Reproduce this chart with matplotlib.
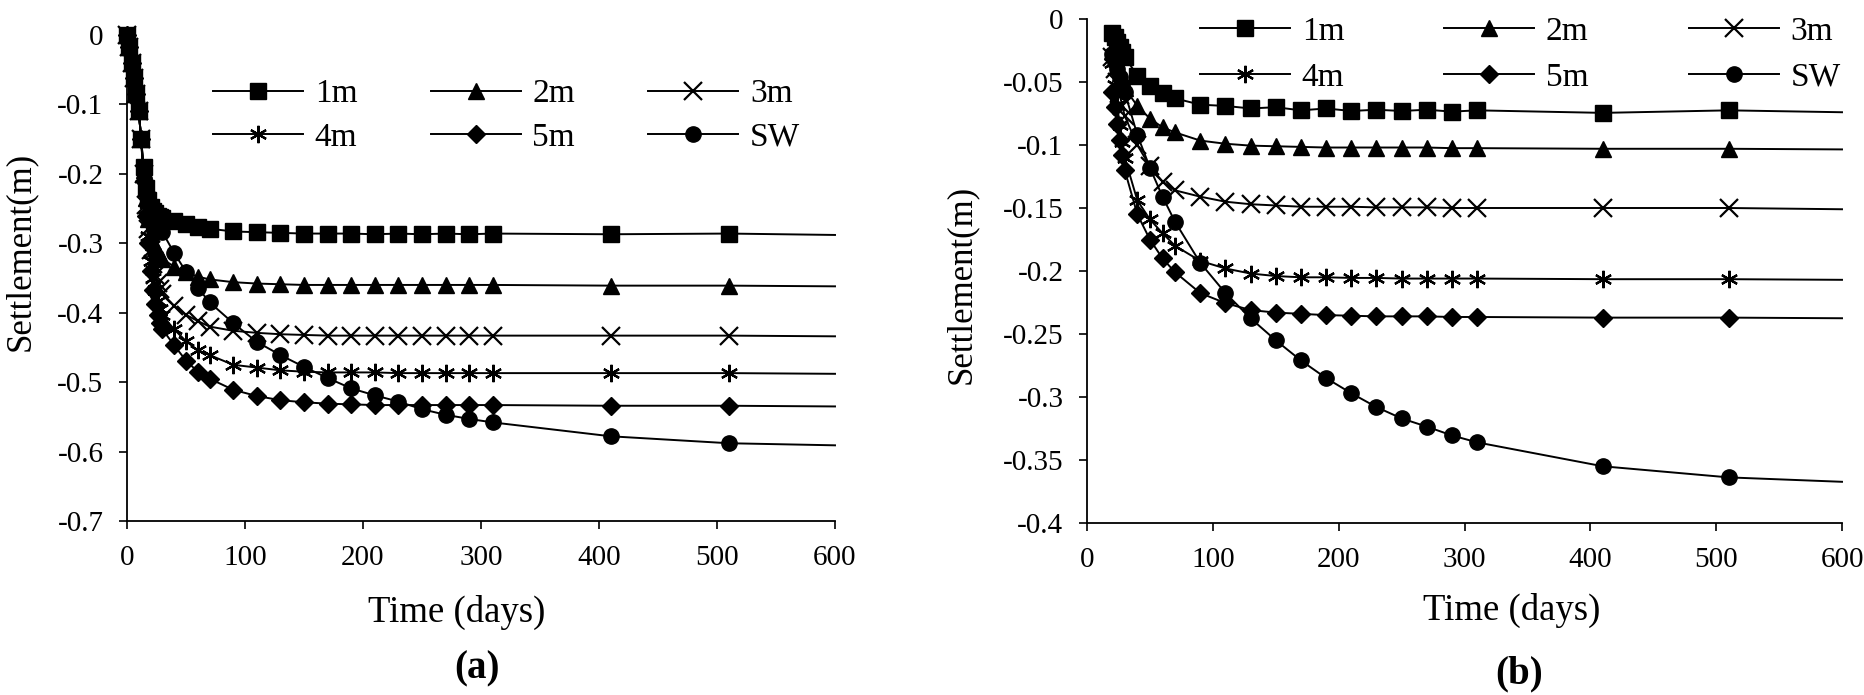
import matplotlib
matplotlib.use("Agg")
import matplotlib.pyplot as plt
from matplotlib.lines import Line2D

plt.rcParams['font.family'] = ['Liberation Serif', 'DejaVu Serif']

# ---------------- data: panel (a) ----------------
ta = [0, 2, 4, 6, 8, 10, 12, 14, 16, 18, 20, 22, 24, 26, 28, 30,
      40, 50, 60, 70,
      90, 110, 130, 150, 170, 190, 210, 230, 250, 270, 290, 310,
      410, 510, 600]
a_1m = [0, -0.018, -0.04, -0.062, -0.085, -0.11, -0.15,
        -0.19, -0.22, -0.238, -0.248, -0.253, -0.257, -0.26, -0.262, -0.264,
        -0.268, -0.272, -0.276, -0.279,
        -0.283, -0.284, -0.285, -0.286, -0.286, -0.286, -0.287, -0.286, -0.287, -0.286, -0.287, -0.286,
        -0.287, -0.286, -0.288]
a_2m = [0, -0.018, -0.04, -0.062, -0.085, -0.11, -0.15,
        -0.195, -0.235, -0.265, -0.285, -0.298, -0.307, -0.313, -0.318, -0.322,
        -0.334, -0.342, -0.348, -0.352,
        -0.356, -0.358, -0.359, -0.36, -0.36, -0.36, -0.36, -0.36, -0.36, -0.36, -0.36, -0.36,
        -0.361, -0.361, -0.362]
a_3m = [0, -0.018, -0.04, -0.062, -0.085, -0.11, -0.15,
        -0.2, -0.245, -0.28, -0.31, -0.33, -0.345, -0.357, -0.366, -0.373,
        -0.39, -0.403, -0.412, -0.42,
        -0.426, -0.429, -0.431, -0.432, -0.433, -0.433, -0.433, -0.433, -0.433, -0.433, -0.433, -0.433,
        -0.433, -0.433, -0.434]
a_4m = [0, -0.018, -0.04, -0.062, -0.085, -0.11, -0.15,
        -0.205, -0.25, -0.29, -0.325, -0.35, -0.368, -0.383, -0.395, -0.404,
        -0.424, -0.441, -0.454, -0.461,
        -0.475, -0.479, -0.483, -0.485, -0.486, -0.486, -0.486, -0.487, -0.487, -0.487, -0.487, -0.487,
        -0.487, -0.487, -0.488]
a_5m = [0, -0.018, -0.04, -0.062, -0.085, -0.11, -0.15,
        -0.21, -0.26, -0.3, -0.34, -0.367, -0.388, -0.403, -0.415, -0.424,
        -0.447, -0.469, -0.485, -0.495,
        -0.511, -0.52, -0.526, -0.529, -0.531, -0.532, -0.533, -0.533, -0.533, -0.533, -0.533, -0.533,
        -0.534, -0.534, -0.535]
a_sw = [0, -0.018, -0.04, -0.062, -0.085, -0.11, -0.15,
        -0.19, -0.215, -0.232, -0.245, -0.255, -0.263, -0.27, -0.277, -0.284,
        -0.314, -0.341, -0.364, -0.385,
        -0.415, -0.442, -0.461, -0.478, -0.494, -0.509, -0.519, -0.528, -0.539, -0.547, -0.553, -0.558,
        -0.578, -0.588, -0.591]

# ---------------- data: panel (b) ----------------
tb = [20, 22, 24, 26, 28, 30,
      40, 50, 60, 70,
      90, 110, 130, 150, 170, 190, 210, 230, 250, 270, 290, 310,
      410, 510, 600]
b_1m = [-0.011, -0.014, -0.018, -0.022, -0.026, -0.030,
        -0.045, -0.053, -0.059, -0.063,
        -0.068, -0.069, -0.071, -0.070, -0.0725, -0.071, -0.073, -0.072, -0.073, -0.072, -0.0735, -0.0725,
        -0.0745, -0.0725, -0.074]
b_2m = [-0.025, -0.031, -0.037, -0.043, -0.049, -0.055,
        -0.069, -0.079, -0.086, -0.090,
        -0.0965, -0.099, -0.1005, -0.101, -0.1015, -0.102, -0.102, -0.102, -0.102, -0.102, -0.1025, -0.1025,
        -0.103, -0.103, -0.1035]
b_3m = [-0.030, -0.040, -0.050, -0.060, -0.069, -0.077,
        -0.100, -0.117, -0.129, -0.136,
        -0.141, -0.145, -0.147, -0.148, -0.149, -0.149, -0.149, -0.1495, -0.1495, -0.1495, -0.150, -0.150,
        -0.150, -0.150, -0.151]
b_4m = [-0.035, -0.052, -0.068, -0.084, -0.098, -0.110,
        -0.144, -0.159, -0.170, -0.180,
        -0.192, -0.198, -0.202, -0.204, -0.205, -0.205, -0.2055, -0.2055, -0.206, -0.206, -0.206, -0.206,
        -0.2065, -0.2065, -0.207]
b_5m = [-0.058, -0.070, -0.083, -0.096, -0.108, -0.120,
        -0.155, -0.175, -0.190, -0.201,
        -0.2175, -0.2255, -0.231, -0.233, -0.234, -0.235, -0.2355, -0.236, -0.236, -0.236, -0.2365, -0.2365,
        -0.237, -0.237, -0.2375]
b_sw = [-0.028, -0.034, -0.040, -0.046, -0.052, -0.058,
        -0.092, -0.118, -0.141, -0.161,
        -0.1935, -0.2175, -0.2375, -0.255, -0.271, -0.285, -0.297, -0.308, -0.317, -0.3235, -0.3305, -0.336,
        -0.355, -0.3638, -0.3673]

labels = ['1m', '2m', '3m', '4m', '5m', 'SW']
xticks = [0, 100, 200, 300, 400, 500, 600]
xticklabels = ['0', '100', '200', '300', '400', '500', '600']
a_yticks = [0, -0.1, -0.2, -0.3, -0.4, -0.5, -0.6, -0.7]
a_yticklabels = ['0', '-0.1', '-0.2', '-0.3', '-0.4', '-0.5', '-0.6', '-0.7']
b_yticks = [0, -0.05, -0.1, -0.15, -0.2, -0.25, -0.3, -0.35, -0.4]
b_yticklabels = ['0', '-0.05', '-0.1', '-0.15', '-0.2', '-0.25', '-0.3', '-0.35', '-0.4']

# ---------------- styles ----------------
W, H = 1865, 695
fig = plt.figure(figsize=(W / 100, H / 100), dpi=100)

markers = {
    '1m': dict(marker='s', ms=11.5),
    '2m': dict(marker='^', ms=12),
    '3m': dict(marker='x', ms=13.5, mew=1.6),
    '4m': dict(marker=(6, 2, 0), ms=12.5, mew=1.6),
    '5m': dict(marker='D', ms=9.5),
    'SW': dict(marker='o', ms=11),
}


def px_axes(l, r, t, b):
    return [l / W, 1 - b / H, (r - l) / W, (b - t) / H]


def style_axes(ax, yticks, yticklabels, ylim):
    ax.set_xlim(0, 600)
    ax.set_ylim(*ylim)
    ax.set_xticks(xticks)
    ax.set_xticklabels(xticklabels)
    ax.set_yticks(yticks)
    ax.set_yticklabels(yticklabels)
    for s in ('top', 'right'):
        ax.spines[s].set_visible(False)
    for s in ('left', 'bottom'):
        ax.spines[s].set_linewidth(1.3)
    ax.tick_params(direction='out', length=6, width=1.2, labelsize=21, pad=11)


def draw(ax, t, series):
    for lab, y in zip(labels, series):
        ax.plot(t, y, color='black', lw=1.4, markevery=list(range(len(t) - 1)),
                mfc='black', mec='black', clip_on=False, **markers[lab])


def add_legend(ax, x, y, colspace, rowspace):
    order = ['1m', '4m', '2m', '5m', '3m', 'SW']
    proxies = [Line2D([], [], color='black', lw=1.4, mfc='black', mec='black', **markers[k])
               for k in order]
    ax.legend(proxies, order, ncol=3, frameon=False, numpoints=1,
              loc='upper left', bbox_to_anchor=(x / W, 1 - y / H),
              bbox_transform=fig.transFigure, borderaxespad=0, borderpad=0,
              fontsize=24, handlelength=2.7, handletextpad=0.35,
              columnspacing=colspace, labelspacing=rowspace)


# panel (a)
axa = fig.add_axes(px_axes(127, 835, 35, 521))
draw(axa, ta, [a_1m, a_2m, a_3m, a_4m, a_5m, a_sw])
style_axes(axa, a_yticks, a_yticklabels, (-0.7, 0))
add_legend(axa, 213, 79, 2.2, 0.38)

# panel (b)
axb = fig.add_axes(px_axes(1087, 1842, 19, 523))
draw(axb, tb, [b_1m, b_2m, b_3m, b_4m, b_5m, b_sw])
style_axes(axb, b_yticks, b_yticklabels, (-0.4, 0))
add_legend(axb, 1200, 16, 3.0, 0.48)

# axis titles and panel letters
fig.text(20 / W, 1 - 251 / H, 'Settlement(m)', rotation=90, ha='center', va='center', fontsize=25)
fig.text(961 / W, 1 - 284 / H, 'Settlement(m)', rotation=90, ha='center', va='center', fontsize=25)
fig.text(457 / W, 1 - 612 / H, 'Time (days)', ha='center', va='center', fontsize=26.5)
fig.text(1512 / W, 1 - 610 / H, 'Time (days)', ha='center', va='center', fontsize=26.5)
fig.text(477 / W, 1 - 669 / H, '(a)', ha='center', va='center', fontsize=28, fontweight='bold')
fig.text(1519 / W, 1 - 674 / H, '(b)', ha='center', va='center', fontsize=28, fontweight='bold')

fig.savefig('out.png', dpi=100)
